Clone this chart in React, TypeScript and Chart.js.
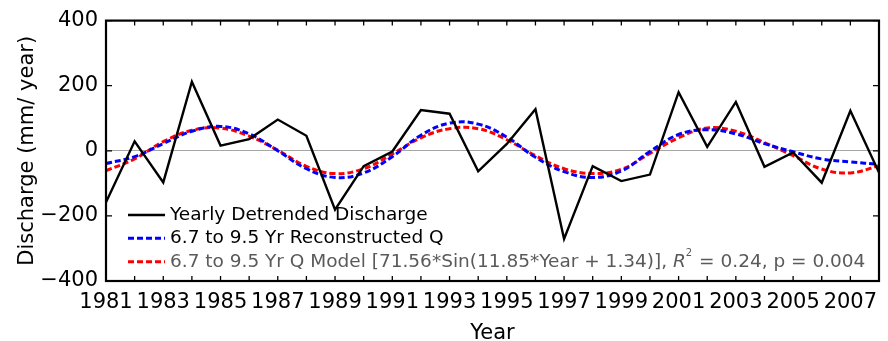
import { useEffect, useRef } from 'react';
import { Chart, registerables } from 'chart.js';

Chart.register(...registerables);

const years = [1981, 1982, 1983, 1984, 1985, 1986, 1987, 1988, 1989, 1990, 1991, 1992, 1993, 1994, 1995, 1996, 1997, 1998, 1999, 2000, 2001, 2002, 2003, 2004, 2005, 2006, 2007, 2008];
const detrended = [-158, 29, -97, 212, 16, 36, 96, 46, -181, -47, -2, 125, 114, -63, 21, 128, -271, -47, -93, -73, 180, 12, 150, -49, -5, -98, 123, -67];
const reconstructed = [-39, -18, 22, 60, 75, 52, 0, -55, -82, -68, -18, 48, 85, 82, 42, -20, -64, -82, -62, -2, 50, 65, 52, 22, -3, -25, -34, -42];
const model = [-61, -25, 28, 63, 70, 45, 2, -48, -70, -55, -10, 40, 68, 68, 34, -15, -55, -70, -57, -8, 40, 70, 60, 25, -15, -56, -68, -46];
const xLabelYears = [1981, 1983, 1985, 1987, 1989, 1991, 1993, 1995, 1997, 1999, 2001, 2003, 2005, 2007];
const yMin = -400;
const yMax = 400;
const yStep = 200;

const labels = [
  'Yearly Detrended Discharge',
  '6.7 to 9.5 Yr Reconstructed Q',
  '6.7 to 9.5 Yr Q Model [71.56*Sin(11.85*Year + 1.34)], ',
];

const FONT = '"DejaVu Sans", sans-serif';

const framePlugin = {
  id: 'frame',
  afterDraw(chart: any) {
    const { ctx, chartArea, scales } = chart;
    const { left, right, top, bottom } = chartArea;
    const xs = scales.x;
    const ys = scales.y;
    ctx.save();
    ctx.strokeStyle = '#000';
    ctx.lineWidth = 1.3;
    ctx.beginPath();
    xs.ticks.forEach((t: any) => {
      const px = xs.getPixelForValue(t.value);
      ctx.moveTo(px, bottom);
      ctx.lineTo(px, bottom - 5);
      ctx.moveTo(px, top);
      ctx.lineTo(px, top + 5);
    });
    ys.ticks.forEach((t: any) => {
      const py = ys.getPixelForValue(t.value);
      ctx.moveTo(left, py);
      ctx.lineTo(left + 6, py);
      ctx.moveTo(right, py);
      ctx.lineTo(right - 6, py);
    });
    ctx.stroke();
    ctx.lineWidth = 2.2;
    ctx.strokeRect(left, top, right - left, bottom - top);
    ctx.restore();
  },
};

const legendPlugin = {
  id: 'innerLegend',
  afterDatasetsDraw(chart: any) {
    const { ctx, chartArea } = chart;
    const x0 = chartArea.left + 22;
    const x1 = chartArea.left + 59;
    const tx = chartArea.left + 64;
    const rows = [chartArea.bottom - 66, chartArea.bottom - 42.7, chartArea.bottom - 19.3];
    ctx.save();
    chart.data.datasets.forEach((ds: any, i: number) => {
      const y = rows[i];
      ctx.beginPath();
      ctx.strokeStyle = ds.borderColor;
      ctx.lineWidth = ds.borderWidth;
      ctx.setLineDash(ds.borderDash || []);
      ctx.moveTo(x0, y);
      ctx.lineTo(x1, y);
      ctx.stroke();
      ctx.setLineDash([]);
      ctx.textBaseline = 'middle';
      ctx.textAlign = 'left';
      ctx.font = `18.5px ${FONT}`;
      ctx.fillStyle = i === 2 ? '#5a5a5a' : '#000';
      ctx.fillText(ds.label, tx, y);
      if (i === 2) {
        let cx = tx + ctx.measureText(ds.label).width;
        ctx.font = `italic 18.5px ${FONT}`;
        ctx.fillText('R', cx, y);
        cx += ctx.measureText('R').width;
        ctx.font = `10px ${FONT}`;
        ctx.fillText('2', cx, y - 8);
        cx += ctx.measureText('2').width + 1;
        ctx.font = `18.5px ${FONT}`;
        ctx.fillText(' = 0.24, p = 0.004', cx, y);
      }
    });
    ctx.restore();
  },
};

export default function App() {
  const ref = useRef<HTMLCanvasElement | null>(null);
  useEffect(() => {
    if (!ref.current) return;
    const chart = new Chart(ref.current, {
      type: 'line',
      data: {
        datasets: [
          {
            label: labels[0],
            data: years.map((x, i) => ({ x, y: detrended[i] })),
            borderColor: '#000000',
            borderWidth: 2.4,
            pointRadius: 0,
            tension: 0,
          },
          {
            label: labels[1],
            data: years.map((x, i) => ({ x, y: reconstructed[i] })),
            borderColor: '#0000ff',
            borderWidth: 3,
            borderDash: [6, 3],
            pointRadius: 0,
            tension: 0.4,
          },
          {
            label: labels[2],
            data: years.map((x, i) => ({ x, y: model[i] })),
            borderColor: '#ff0000',
            borderWidth: 3,
            borderDash: [6, 3],
            pointRadius: 0,
            tension: 0.4,
          },
        ],
      },
      options: {
        animation: false,
        responsive: false,
        layout: { padding: { top: 17, right: 2, left: 0, bottom: 0 } },
        plugins: { legend: { display: false }, tooltip: { enabled: false } },
        scales: {
          x: {
            type: 'linear',
            min: years[0],
            max: years[years.length - 1],
            afterFit: (s: any) => { s.height = 60; },
            grid: { display: true, drawOnChartArea: false, drawTicks: false },
            border: { display: false },
            ticks: {
              stepSize: 1,
              autoSkip: false,
              maxRotation: 0,
              padding: 9,
              color: '#000',
              font: { family: FONT, size: 21 },
              callback: (v: any) => (xLabelYears.includes(Number(v)) ? String(v) : ''),
            },
            title: {
              display: true,
              text: 'Year',
              color: '#000',
              font: { family: FONT, size: 21, lineHeight: 0.75 },
              padding: 0,
            },
          },
          y: {
            type: 'linear',
            min: yMin,
            max: yMax,
            afterFit: (s: any) => { s.width = 106; },
            grid: {
              drawTicks: false,
              color: (c: any) => (c.tick && c.tick.value === 0 ? '#a6a6a6' : 'rgba(0,0,0,0)'),
              lineWidth: 1,
            },
            border: { display: false },
            ticks: {
              stepSize: yStep,
              padding: 8,
              color: '#000',
              font: { family: FONT, size: 21 },
              callback: (v: any) => String(v).replace('-', '\u2212'),
            },
            title: {
              display: true,
              text: 'Discharge (mm/ year)',
              color: '#000',
              font: { family: FONT, size: 21, lineHeight: 1.2 },
              padding: { top: 15, bottom: 0 },
            },
          },
        },
      },
      plugins: [legendPlugin, framePlugin],
    });
    return () => chart.destroy();
  }, []);
  return (
    <div style={{ position: 'fixed', left: 0, top: 0, width: 888, height: 341, background: '#fff' }}>
      <canvas ref={ref} width={888} height={341} style={{ display: 'block' }} />
    </div>
  );
}
